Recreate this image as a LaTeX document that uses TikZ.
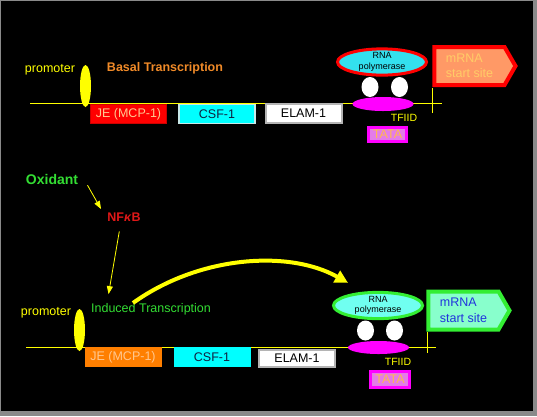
\documentclass[tikz,border=0pt]{standalone}
\usepackage{fontspec}
\setmainfont{Liberation Sans}
\usetikzlibrary{arrows.meta,shapes.geometric,shapes.symbols}

\definecolor{frame}{HTML}{8A8A8A}
\definecolor{dnayellow}{HTML}{FFFF00}
\definecolor{basalorange}{HTML}{F08A28}
\definecolor{oxgreen}{HTML}{33DD33}
\definecolor{nfred}{HTML}{E01818}
\definecolor{jered}{HTML}{FF0000}
\definecolor{jeorange}{HTML}{FF7F00}
\definecolor{jetext}{HTML}{FFC890}
\definecolor{csfcyan}{HTML}{00FFFF}
\definecolor{csfedge}{HTML}{C8E8E8}
\definecolor{csftext}{HTML}{102040}
\definecolor{elamedge}{HTML}{B4B4B4}
\definecolor{polcyan}{HTML}{33E0EE}
\definecolor{polcyanlt}{HTML}{70FFF0}
\definecolor{polgreen}{HTML}{33EE33}
\definecolor{tfmagenta}{HTML}{FF00FF}
\definecolor{tatafill}{HTML}{E47CE8}
\definecolor{tatatext}{HTML}{FFB850}
\definecolor{startfill}{HTML}{FF9966}
\definecolor{starttext}{HTML}{FFCC66}
\definecolor{startmint}{HTML}{88FFCC}
\definecolor{startblue}{HTML}{2233DD}

\begin{document}
\begin{tikzpicture}[x=1pt,y=-1pt,
    lbl/.style={inner sep=0pt, font=\fontsize{12.5}{14}\selectfont},
    gene/.style={draw, inner sep=0pt, minimum width=76pt, minimum height=19pt,
                 font=\fontsize{12.5}{14}\selectfont},
    promo/.style={ellipse, fill=dnayellow, inner sep=0pt, minimum width=11pt, minimum height=42pt},
    dna/.style={draw=dnayellow, line width=1pt},
    pol/.style={ellipse, line width=3pt, inner sep=0pt, minimum width=89pt, minimum height=26pt,
                align=center, font=\fontsize{9}{10.5}\selectfont},
    sub/.style={ellipse, fill=white, inner sep=0pt, minimum width=17pt, minimum height=20pt},
    tfiid/.style={ellipse, fill=tfmagenta, inner sep=0pt, minimum width=61pt, minimum height=14pt},
    tata/.style={draw=tfmagenta, fill=tatafill, line width=3pt, inner sep=0pt, minimum width=38pt,
                 minimum height=14pt, text=tatatext, font=\fontsize{12.5}{14}\selectfont},
    start/.style={signal, signal to=east, signal pointer angle=120, line width=4pt, inner sep=0pt,
                  minimum width=81pt, minimum height=38pt, align=left,
                  font=\fontsize{12.5}{15.5}\selectfont},
    thinarr/.style={draw=dnayellow, line width=0.8pt, -{Triangle[length=8pt,width=6pt]}},
    bigarr/.style={draw=dnayellow, line width=4pt, -{Triangle[length=13pt,width=13pt]}}
  ]
    % background
    \fill[frame] (0,0) rectangle (537,416);
    \fill[black] (1,1) rectangle (533,411);

    % basal transcription
    \coordinate (dna1w) at (30,103);
    \coordinate (dna1e) at (442,103);
    \coordinate (tss1) at (432,103);
    \draw[dna] (dna1w) -- (dna1e);
    \draw[dna] ([yshift=15pt]tss1) -- ([yshift=-10pt]tss1);
    \node[promo] (prom1) at (85.5,86) {};
    \node[lbl, text=dnayellow] (promtxt1) at (50,70) {promoter};
    \node[lbl, font=\fontsize{12.5}{14}\selectfont\bfseries, text=basalorange] (basal) at (165,68) {Basal Transcription};
    \node[gene, draw=jered!80!black, fill=jered, text=jetext] (je1) at (128.5,114) {JE (MCP-1)};
    \node[gene, draw=csfedge, line width=1.5pt, fill=csfcyan, text=csftext] (csf1) at (217,114) {CSF-1};
    \node[gene, draw=elamedge, line width=2pt, fill=white, text=black] (elam1) at (303.5,113) {ELAM-1};
    \node[tfiid] (tf1) at (383,104) {};
    \node[sub] (suba1) at (370,87) {};
    \node[sub] (subb1) at (399.5,87) {};
    \node[pol, draw=jered, fill=polcyan] (pol1) at (382,62) {RNA\\polymerase};
    \node[lbl, font=\fontsize{10.5}{12}\selectfont, text=dnayellow] (tftxt1) at (404,118) {TFIID};
    \node[tata] (tata1) at (387.5,134.5) {TATA};
    \node[start, draw=jered, fill=startfill, text=starttext] (start1) at (469.5,66) {mRNA\\start site};

    % induced transcription
    \node[lbl, font=\fontsize{14}{16}\selectfont\bfseries, text=oxgreen] (oxidant) at (52,179) {Oxidant};
    \node[lbl, font=\fontsize{12.5}{14}\selectfont\bfseries, text=nfred] (nfkb) at (124,217) {NF\textit{κ}B};
    \node[lbl, text=oxgreen] (induced) at (151,309) {Induced Transcription};
    \draw[thinarr, shorten <=1pt, shorten >=4pt] ([xshift=35pt]oxidant.south) -- ([xshift=-21pt]nfkb.north);
    \draw[thinarr, shorten <=10pt, shorten >=9pt] ([xshift=-3pt]nfkb.south) -- ([xshift=-44pt]induced.north);

    \coordinate (dna2w) at (26,347);
    \coordinate (dna2e) at (436,347);
    \coordinate (tss2) at (427,347);
    \draw[dna] (dna2w) -- (dna2e);
    \draw[dna] ([yshift=15pt]tss2) -- ([yshift=-6pt]tss2);
    \node[promo] (prom2) at (79.5,330) {};
    \node[lbl, text=dnayellow] (promtxt2) at (46,313) {promoter};
    \node[gene, draw=jeorange, fill=jeorange, text=jetext] (je2) at (123,357) {JE (MCP-1)};
    \node[gene, draw=csfcyan, fill=csfcyan, text=csftext] (csf2) at (212,357) {CSF-1};
    \node[gene, draw=elamedge, line width=2pt, fill=white, text=black, minimum height=17pt] (elam2) at (297,358) {ELAM-1};
    \node[tfiid, minimum height=13pt] (tf2) at (378.5,347.5) {};
    \node[sub] (suba2) at (365.5,330.5) {};
    \node[sub] (subb2) at (394.5,330.5) {};
    \node[pol, draw=polgreen, fill=polcyanlt] (pol2) at (378,305.5) {RNA\\polymerase};
    \node[lbl, font=\fontsize{10.5}{12}\selectfont, text=dnayellow] (tftxt2) at (398,361.5) {TFIID};
    \node[tata, minimum height=16pt, minimum width=39pt] (tata2) at (390,379.5) {TATA};
    \node[start, draw=polgreen, fill=startmint, text=startblue] (start2) at (463.5,310.5) {mRNA\\start site};

    \draw[bigarr] ([xshift=-18pt]induced.north) .. controls (200,255) and (290,250) .. ([xshift=-30pt,yshift=8pt]pol2.north);
  \end{tikzpicture}
\end{document}
